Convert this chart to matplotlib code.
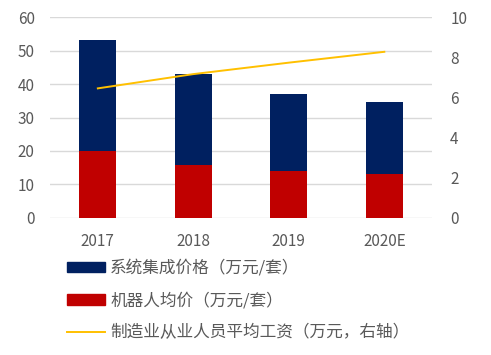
import matplotlib
matplotlib.use("Agg")
import matplotlib.pyplot as plt
from matplotlib.patches import Patch
from matplotlib.lines import Line2D

plt.rcParams['font.family'] = ['Noto Sans CJK SC', 'DejaVu Sans']

years = ["2017", "2018", "2019", "2020E"]
system_price = [53, 43, 37, 34.5]
robot_price = [20, 15.7, 13.9, 13.1]
wage = [6.45, 7.16, 7.73, 8.27]

labels = ["系统集成价格（万元/套）", "机器人均价（万元/套）", "制造业从业人员平均工资（万元，右轴）"]

navy = "#002060"
red = "#C00000"
gold = "#FFC000"
txt = "#595959"

fig = plt.figure(figsize=(4.91, 3.55), dpi=100)
ax = fig.add_axes([0.102, 0.386, 0.778, 0.566])
x = list(range(len(years)))
ax.bar(x, system_price, width=0.39, color=navy, zorder=2)
ax.bar(x, robot_price, width=0.39, color=red, zorder=3)
ax.set_xlim(-0.5, 3.5)
ax.set_ylim(0, 60)
ax.set_yticks(range(0, 61, 10))
ax.grid(axis='y', color="#D9D9D9", linewidth=1, zorder=0)
ax.set_axisbelow(True)
for s in ax.spines.values():
    s.set_visible(False)
ax.tick_params(length=0, colors=txt, labelsize=11)
ax.tick_params(axis='y', pad=11)
ax.tick_params(axis='x', pad=11)
ax.set_xticks(x)
ax.set_xticklabels(years)

ax2 = ax.twinx()
ax2.plot(x, wage, color=gold, linewidth=1.4, zorder=4)
ax2.set_ylim(0, 10)
ax2.set_yticks(range(0, 11, 2))
for s in ax2.spines.values():
    s.set_visible(False)
ax2.tick_params(length=0, colors=txt, labelsize=11, pad=13)

handles = [Patch(color=navy), Patch(color=red), Line2D([0], [0], color=gold, linewidth=1.4)]
fig.legend(handles, labels, loc='upper left', bbox_to_anchor=(0.136, 0.268), frameon=False,
           fontsize=12, labelcolor=txt, handlelength=2.3, handleheight=0.6,
           labelspacing=0.92, handletextpad=0.3, borderaxespad=0, borderpad=0)

fig.savefig("out.png", dpi=100)
